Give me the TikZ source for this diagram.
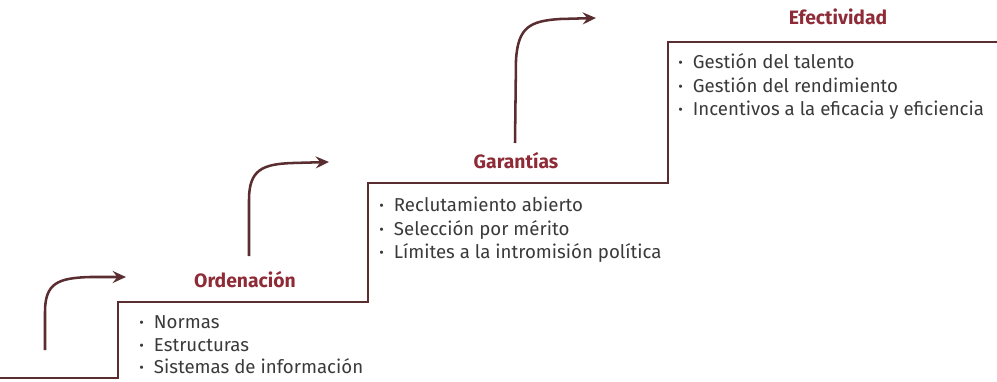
\documentclass[tikz,border=0pt]{standalone}
\usepackage{fontspec}
\setmainfont{Fira Sans}
\usetikzlibrary{arrows.meta}
\definecolor{stair}{HTML}{5A2E30}
\definecolor{ttl}{HTML}{8E2B37}
\definecolor{txt}{HTML}{3A3A3A}
\newcommand{\bul}{\makebox[11pt][l]{\raisebox{0.6pt}{\fontsize{10.5}{10}\selectfont •}}}
\tikzset{
  stairline/.style={draw=stair, line width=1.9pt, line join=miter},
  steparrow/.style={draw=stair, line width=1.9pt, -{Stealth[length=10pt,width=9pt,inset=3.5pt]}},
  ttlnode/.style={font=\fontsize{14.5}{17}\selectfont\bfseries, text=ttl, anchor=base, inner sep=0pt},
  itemnode/.style={font=\fontsize{14}{17}\selectfont, text=txt, anchor=base west, inner sep=0pt},
}
\begin{document}
\begin{tikzpicture}[x=0.75pt,y=-0.75pt]
\useasboundingbox (0,0) rectangle (997,382);
% staircase
\coordinate (s0) at (0,378);
\coordinate (s1) at (118,378);
\coordinate (s2) at (118,302);
\coordinate (s3) at (368,302);
\coordinate (s4) at (368,183);
\coordinate (s5) at (668,183);
\coordinate (s6) at (668,42);
\coordinate (s7) at (997,42);
\draw[stairline] (s0) -- (s1) -- (s2) -- (s3) -- (s4) -- (s5) -- (s6) -- (s7);
% arrows
\coordinate (a1s) at (45,350);
\coordinate (a1e) at (126,277);
\draw[steparrow] (a1s) -- (45,312) .. controls (45,283) and (58,278) .. (90,277) -- (a1e);
\coordinate (a2s) at (249,256);
\coordinate (a2e) at (329,162);
\draw[steparrow] (a2s) -- (249,200) .. controls (249,170) and (262,164) .. (293,163) -- (a2e);
\coordinate (a3s) at (515,143);
\coordinate (a3e) at (596,18);
\draw[steparrow] (a3s) -- (516,60) .. controls (518,27) and (530,21) .. (560,19) -- (a3e);
% titles
\node[ttlnode] (t1) at (245,287) {Ordenación};
\node[ttlnode] (t2) at (516,168) {Garantías};
\node[ttlnode] (t3) at (838,25) {Efectividad};
% lists
\node[itemnode] (o1) at (139,328) {\bul Normas};
\node[itemnode] (o2) at (139,351) {\bul Estructuras};
\node[itemnode] (o3) at (139,373) {\bul Sistemas de información};
\node[itemnode] (g1) at (379,211) {\bul Reclutamiento abierto};
\node[itemnode] (g2) at (379,235) {\bul Selección por mérito};
\node[itemnode] (g3) at (379,258) {\bul Límites a la intromisión política};
\node[itemnode] (e1) at (678,68) {\bul Gestión del talento};
\node[itemnode] (e2) at (678,92) {\bul Gestión del rendimiento};
\node[itemnode] (e3) at (678,115) {\bul Incentivos a la eficacia y eficiencia};
\end{tikzpicture}
\end{document}
